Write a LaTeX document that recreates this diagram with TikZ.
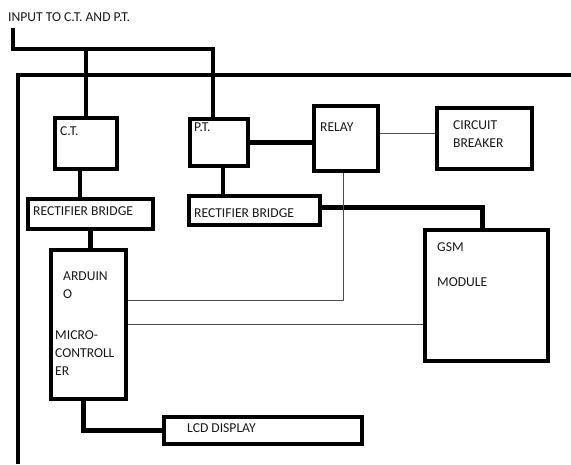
\documentclass[tikz,border=0pt]{standalone}
\usepackage{fontspec}
\setmainfont{Carlito}
\usepackage{tikz}
\usetikzlibrary{positioning, calc}

\begin{document}
\begin{tikzpicture}[x=1pt, y=-1pt,
    font=\fontsize{13.6}{18}\selectfont,
    blk/.style={draw, line width=4.3pt, inner sep=0pt, fill=white},
    lbl/.style={anchor=north west, inner sep=0pt, align=left, text=black!90},
    bus/.style={line width=4.3pt},
    sig/.style={line width=1pt, black!70}]
    \useasboundingbox (0,0) rectangle (571,464);

    % frame lines
    \draw[bus] (18,464) -- (18,75) -- (571,75);

    % blocks
    \node[blk, minimum width=62pt, minimum height=51pt] (ct) at (86,143.5) {};
    \node[blk, minimum width=58pt, minimum height=47pt] (pt) at (219,142.5) {};
    \node[blk, minimum width=64pt, minimum height=65pt] (relay) at (346,138.5) {};
    \node[blk, minimum width=95pt, minimum height=61pt] (cb) at (484.5,138.5) {};
    \node[blk, minimum width=125pt, minimum height=30pt] (rb1) at (90.5,214) {};
    \node[blk, minimum width=131pt, minimum height=29pt] (rb2) at (254.5,210.5) {};
    \node[blk, minimum width=75pt, minimum height=149pt] (ard) at (88.5,324.5) {};
    \node[blk, minimum width=123pt, minimum height=131pt] (gsm) at (486.5,295.5) {};
    \node[blk, minimum width=198pt, minimum height=27pt] (lcd) at (263,430.5) {};

    % texts
    \node[lbl] (intxt) at (8,12) {INPUT TO C.T. AND P.T.};
    \node[lbl] (cttxt) at (60,126) {C.T.};
    \node[lbl] (pttxt) at (194,123) {P.T.};
    \node[lbl] (relaytxt) at (320,123) {RELAY};
    \node[lbl] (cbtxt) at (453,120) {CIRCUIT\\BREAKER};
    \node[lbl] (rb1txt) at (33,206) {RECTIFIER BRIDGE};
    \node[lbl] (rb2txt) at (194,208) {RECTIFIER BRIDGE};
    \node[lbl] (ardtxt) at (63,272) {ARDUIN\\O};
    \node[lbl] (mctxt) at (55,330) {MICRO-\\CONTROLL\\ER};
    \node[lbl] (gsmtxt) at (437,242) {GSM\\[17pt]MODULE};
    \node[lbl] (lcdtxt) at (187,423) {LCD DISPLAY};

    % input to C.T. and P.T.
    \coordinate (in) at (13,28);
    \coordinate (split) at (13,49);
    \draw[bus] (in) -- (split) -| ([xshift=-6pt]pt.north);
    \draw[bus] (ct.north |- split) -- (ct.north);

    % thick links
    \draw[bus] ([xshift=-6pt]ct.south) -- ([xshift=-6pt]ct.south |- rb1.north);
    \draw[bus] (rb1.south -| ard.north) ++(2,0) -- ++(0,18);
    \draw[bus] ([xshift=4pt]pt.south) -- ([xshift=4pt]pt.south |- rb2.north);
    \draw[bus] (pt.east) -- (pt.east -| relay.west);
    \draw[bus] ([yshift=3pt]rb2.east) -| ([xshift=-4pt]gsm.north);
    \draw[bus] ([xshift=-5pt]ard.south) |- (lcd.west);

    % thin links
    \draw[sig] ([yshift=5pt]relay.east) -- ([yshift=5pt]relay.east -| cb.west);
    \draw[sig] ([xshift=-3pt]relay.south) |- ([yshift=24pt]ard.east);
    \draw[sig] (ard.east) -- (ard.east -| gsm.west);
\end{tikzpicture}
\end{document}
